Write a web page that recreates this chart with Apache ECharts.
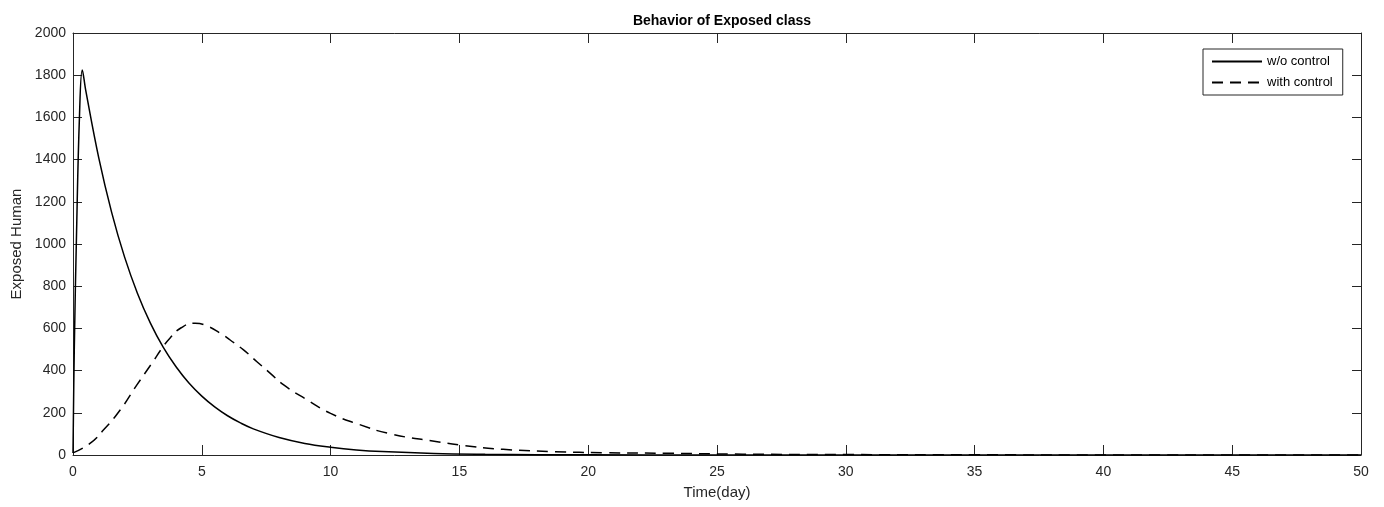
<!DOCTYPE html>
<html>
<head>
<meta charset="utf-8">
<title>Behavior of Exposed class</title>
<script src="https://cdn.jsdelivr.net/npm/echarts@6/dist/echarts.min.js"></script>
<style>
  html, body { margin: 0; padding: 0; background: #fff; }
  #chart { width: 1384px; height: 507px; }
</style>
</head>
<body>
<div id="chart"></div>
<script>
// values
const timeNoControl = [0, 0.05, 0.14, 0.25, 0.36, 0.5, 1, 1.5, 2, 2.5, 3, 3.5, 4, 4.5, 5, 5.5, 6, 6.5, 7, 8, 9, 10, 11, 12, 14, 16, 18, 20, 25, 30, 40, 50];
const exposedNoControl = [10, 500, 1066, 1600, 1825, 1724, 1408, 1150, 939, 767, 626, 511, 418, 341, 279, 228, 186, 152, 124, 83, 55, 37, 24, 16, 7, 3, 1.4, 0.6, 0.1, 0, 0, 0];

const timeControl = [0, 0.66, 1.18, 1.83, 2.48, 3.12, 3.45, 3.77, 4.2, 4.74, 5.2, 5.72, 6.1, 6.62, 7.14, 7.66, 8.18, 9.09, 10, 11.03, 12.33, 14.14, 15.05, 16.7, 18.7, 20.6, 23.2, 26, 30, 35, 40, 50];
const exposedControl = [10, 55, 118, 213, 332, 445, 505, 555, 603, 625, 612, 577, 545, 498, 442, 387, 332, 261, 197, 148, 100, 63, 47, 27, 16, 11, 8, 4, 2, 1, 0, 0];

const seriesNames = ['w/o control', 'with control'];

function pairs(xs, ys) {
  return xs.map((x, i) => [x, ys[i]]);
}

const ink = '#262626';
const font = 'Liberation Sans, Arial, Helvetica, sans-serif';

const chart = echarts.init(document.getElementById('chart'));

// shared look of the box axes (MATLAB style: ticks inside, all four sides)
const xBase = {
  type: 'value', min: 0, max: 50, interval: 5,
  splitLine: { show: false },
  axisLine: { show: true, onZero: false, lineStyle: { color: ink, width: 1 } },
  axisTick: { show: true, inside: true, length: 10, lineStyle: { color: ink } }
};
const yBase = {
  type: 'value', min: 0, max: 2000, interval: 200,
  splitLine: { show: false },
  axisLine: { show: true, onZero: false, lineStyle: { color: ink, width: 1 } },
  axisTick: { show: true, inside: true, length: 9, lineStyle: { color: ink } }
};

chart.setOption({
  animation: false,
  backgroundColor: '#fff',
  title: {
    text: 'Behavior of Exposed class',
    left: 717, top: 9, textAlign: 'center',
    textStyle: { fontFamily: font, fontSize: 14, fontWeight: 'bold', color: '#000' }
  },
  legend: {
    orient: 'vertical',
    left: 1203, top: 49,
    data: seriesNames,
    itemWidth: 50, itemHeight: 12, itemGap: 8,
    padding: [6, 10, 6, 8],
    borderColor: ink, borderWidth: 1,
    backgroundColor: '#fff',
    itemStyle: { opacity: 0 },
    textStyle: { fontFamily: font, fontSize: 13, color: '#000' }
  },
  grid: { left: 73, right: 23, top: 33, bottom: 52, outerBoundsMode: 'none' },
  xAxis: [
    Object.assign({}, xBase, {
      position: 'bottom',
      name: 'Time(day)', nameLocation: 'middle', nameGap: 30,
      nameTextStyle: { fontFamily: font, fontSize: 15, color: ink },
      axisLabel: { fontFamily: font, fontSize: 14, color: ink, margin: 10 }
    }),
    Object.assign({}, xBase, { position: 'top', axisLabel: { show: false } })
  ],
  yAxis: [
    Object.assign({}, yBase, {
      position: 'left',
      name: 'Exposed Human', nameLocation: 'middle', nameGap: 49,
      nameTextStyle: { fontFamily: font, fontSize: 15, color: ink },
      axisLabel: { fontFamily: font, fontSize: 14, color: ink, margin: 7, formatter: v => String(v) }
    }),
    Object.assign({}, yBase, { position: 'right', axisLabel: { show: false } })
  ],
  series: [
    {
      name: seriesNames[0], type: 'line',
      data: pairs(timeNoControl, exposedNoControl),
      smooth: 0.4, symbol: 'none',
      lineStyle: { color: '#000', width: 1.5, type: 'solid' },
      itemStyle: { color: '#000' }
    },
    {
      name: seriesNames[1], type: 'line',
      data: pairs(timeControl, exposedControl),
      smooth: 0.5, symbol: 'none',
      lineStyle: { color: '#000', width: 1.5, type: [11, 7] },
      itemStyle: { color: '#000' }
    }
  ]
});
</script>
</body>
</html>
